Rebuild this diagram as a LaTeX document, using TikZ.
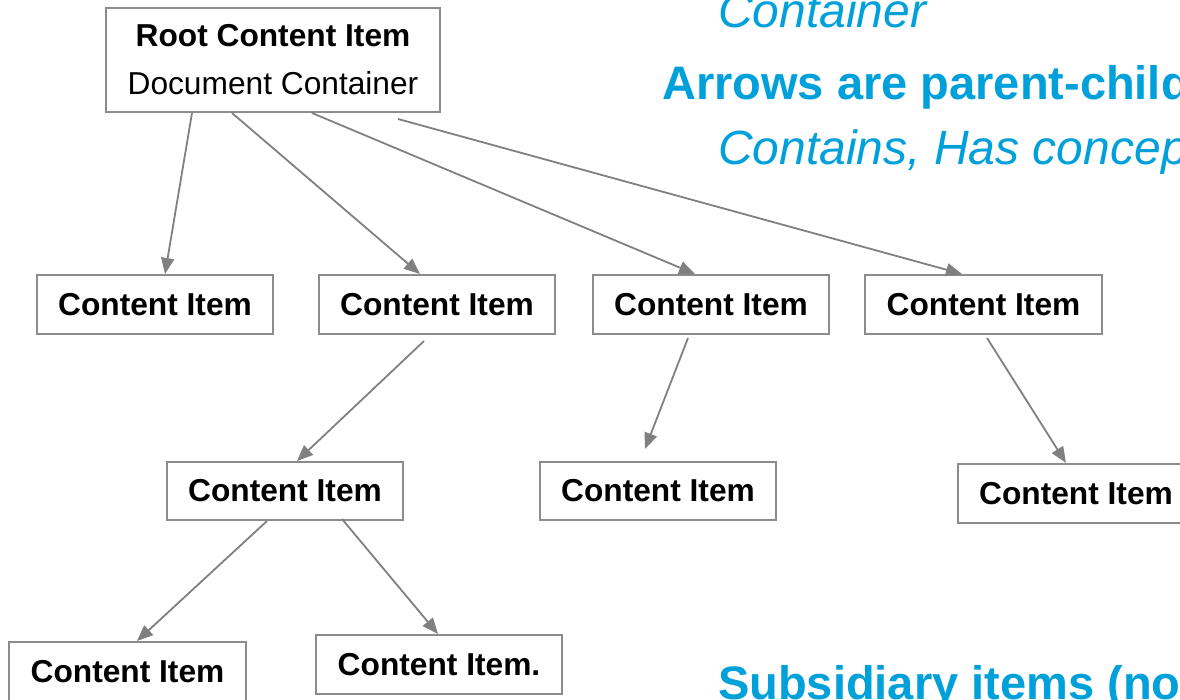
\documentclass[tikz,border=0pt]{standalone}
\usepackage{fontspec}
\setmainfont{Liberation Sans}
\usetikzlibrary{arrows.meta}
\definecolor{boxgray}{RGB}{140,140,140}
\definecolor{linkgray}{RGB}{128,128,128}
\definecolor{noteblue}{RGB}{0,160,218}
\tikzset{
  item/.style={draw=boxgray, line width=2pt, fill=white, inner sep=0pt,
    minimum width=236pt, minimum height=59pt,
    font=\fontsize{31.7}{38}\selectfont\bfseries},
  link/.style={draw=linkgray, line width=1.8pt,
    -{Triangle[length=16pt,width=13pt]}},
  note/.style={anchor=base west, inner sep=0pt, text=noteblue,
    font=\fontsize{48}{56}\selectfont}
}
\begin{document}
\begin{tikzpicture}[x=1pt,y=-1pt]
\useasboundingbox (0,0) rectangle (1180,700);
\clip (0,0) rectangle (1180,700);

% root node
\node[item, minimum width=334pt, minimum height=104pt, align=center,
  font=\fontsize{31.7}{48}\selectfont] (root) at (273,60)
  {\textbf{Root Content Item}\\Document Container};

% first level
\node[item] (a) at (155,304.5) {Content Item};
\node[item] (b) at (437,304.5) {Content Item};
\node[item] (c) at (711,304.5) {Content Item};
\node[item, minimum width=237pt] (d) at (983.5,304.5) {Content Item};

% second level
\node[item, minimum height=58pt] (e) at (285,491) {Content Item};
\node[item, minimum height=58pt] (f) at (658,491) {Content Item};
\node[item] (g) at (1076,493.5) {Content Item};

% third level
\node[item, minimum width=237pt] (h) at (127.5,671.5) {Content Item};
\node[item, minimum width=246pt] (i) at (439,664.5) {Content Item.};

% parent-child links
\draw[link] ([xshift=-81pt]root.south) -- ([xshift=10pt]a.north);
\draw[link] ([xshift=-41pt]root.south) -- ([xshift=-17pt]b.north);
\draw[link] ([xshift=39pt]root.south) -- ([xshift=-16pt]c.north);
\draw[link] ([xshift=125pt,yshift=-6pt]root.south) -- ([xshift=-21.5pt]d.north);
\draw[link] ([xshift=-13pt,yshift=-6pt]b.south) -- ([xshift=12pt]e.north);
\draw[link] ([xshift=-23pt,yshift=-3pt]c.south) -- ([xshift=-13pt,yshift=12pt]f.north);
\draw[link] ([xshift=3.5pt,yshift=-3pt]d.south) -- ([xshift=-10pt]g.north);
\draw[link] ([xshift=-18pt]e.south) -- ([xshift=9.5pt]h.north);
\draw[link] ([xshift=57pt,yshift=2pt]e.south) -- ([xshift=-1pt]i.north);

% notes
\node[note, font=\fontsize{48}{56}\selectfont\itshape] (n1) at (718,28) {Container};
\node[note, font=\fontsize{47}{56}\selectfont\bfseries] (n2) at (662,100) {Arrows are parent-child};
\node[note, font=\fontsize{48}{56}\selectfont\itshape] (n3) at (718,165) {Contains, Has concep};
\node[note, font=\fontsize{47}{56}\selectfont\bfseries] (n4) at (718,699) {Subsidiary items (no};
\end{tikzpicture}
\end{document}
